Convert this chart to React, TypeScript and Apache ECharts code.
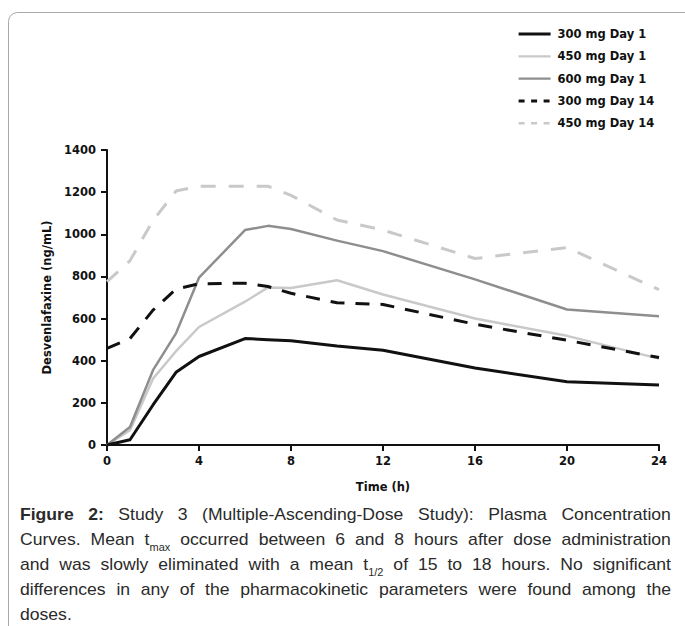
import React, { useEffect, useRef } from "react";
import * as echarts from "echarts";

// ---- data ----
const hours = [0, 1, 2, 3, 4, 6, 7, 8, 10, 12, 16, 20, 24];
const mg300Day1 = [0, 25, 190, 345, 420, 505, 500, 495, 470, 450, 365, 300, 285];
const mg450Day1 = [0, 70, 315, 445, 560, 680, 748, 745, 782, 714, 600, 518, 410];
const mg600Day1 = [0, 85, 355, 530, 794, 1020, 1040, 1025, 970, 920, 786, 643, 611];
const mg300Day14 = [459, 505, 640, 740, 765, 768, 752, 720, 675, 667, 573, 497, 415];
const mg450Day14 = [775, 875, 1065, 1205, 1228, 1228, 1228, 1185, 1068, 1020, 885, 937, 737];

const seriesNames = ["300 mg Day 1", "450 mg Day 1", "600 mg Day 1", "300 mg Day 14", "450 mg Day 14"];
const seriesValues = [mg300Day1, mg450Day1, mg600Day1, mg300Day14, mg450Day14];

const xMin = 0;
const xMax = 24;
const xInterval = 4;
const yMin = 0;
const yMax = 1400;
const yInterval = 200;
const xAxisTitle = "Time (h)";
const yAxisTitle = "Desvenlafaxine (ng/mL)";

// ^ marks a bold word, _ starts a subscript
const captionLines = [
  "^Figure ^2: Study 3 (Multiple-Ascending-Dose Study): Plasma Concentration",
  "Curves. Mean t_max occurred between 6 and 8 hours after dose administration",
  "and was slowly eliminated with a mean t_1/2 of 15 to 18 hours. No significant",
  "differences in any of the pharmacokinetic parameters were found among the",
  "doses.",
];

// ---- styles ----
const seriesStyles = [
  { color: "#111111", width: 3, type: "solid" as any, legendType: "solid" as any, legendWidth: 3.2 },
  { color: "#c9c9c9", width: 2.5, type: "solid" as any, legendType: "solid" as any, legendWidth: 2.2 },
  { color: "#8e8e8e", width: 2.5, type: "solid" as any, legendType: "solid" as any, legendWidth: 2.2 },
  { color: "#111111", width: 3, type: [14, 11] as any, legendType: [6, 6.5] as any, legendWidth: 3 },
  { color: "#c9c9c9", width: 3, type: [15, 13] as any, legendType: [6, 6.5] as any, legendWidth: 2.5 },
];

const AXIS_FONT = "'DejaVu Sans', sans-serif";
const CAPTION_FONT = "'Liberation Sans', Arial, sans-serif";

function buildCaption(): any[] {
  const canvas = document.createElement("canvas");
  const ctx = canvas.getContext("2d") as CanvasRenderingContext2D;
  const FS = 16;
  const SUB = 10;
  const SX = 1.1;
  const LEFT = 20;
  const RIGHT = 671;
  const BASE0 = 520;
  const LH = 25;
  const measure = (t: string, size: number, bold: boolean) => {
    ctx.font = `${bold ? "bold " : ""}${size}px ${CAPTION_FONT}`;
    return ctx.measureText(t).width;
  };
  const els: any[] = [];
  captionLines.forEach((line, li) => {
    const words = line.split(" ").map((raw) => {
      let w = raw;
      let bold = false;
      if (w.startsWith("^")) {
        bold = true;
        w = w.slice(1);
      }
      const parts = w.split("_");
      const segs: any[] = [{ text: parts[0], sub: false, bold }];
      if (parts[1]) segs.push({ text: parts[1], sub: true, bold: false });
      return segs.map((s) => ({ ...s, w: measure(s.text, s.sub ? SUB : FS, s.bold) * SX }));
    });
    const total = words.reduce((a, ws) => a + ws.reduce((b: number, s: any) => b + s.w, 0), 0);
    const last = li === captionLines.length - 1;
    const gap =
      last || words.length < 2 ? measure(" ", FS, false) * SX : (RIGHT - LEFT - total) / (words.length - 1);
    let x = LEFT;
    const base = BASE0 + li * LH;
    words.forEach((ws) => {
      ws.forEach((s: any) => {
        const size = s.sub ? SUB : FS;
        const bl = s.sub ? base + 6 : base;
        els.push({
          type: "text",
          x,
          y: bl - 0.35 * size,
          scaleX: SX,
          silent: true,
          style: {
            text: s.text,
            fontFamily: CAPTION_FONT,
            fontSize: size,
            fontWeight: s.bold ? "bold" : "normal",
            fill: "#2a2a2a",
            textAlign: "left",
            textVerticalAlign: "middle",
          },
        });
        x += s.w;
      });
      x += gap;
    });
  });
  return els;
}

export default function App() {
  const ref = useRef<HTMLDivElement>(null);

  useEffect(() => {
    document.body.style.margin = "0";
    if (!ref.current) return;
    const chart = echarts.init(ref.current, undefined, { renderer: "svg" });

    const axisLabelStyle = {
      fontFamily: AXIS_FONT,
      fontWeight: "bold" as const,
      fontSize: 11.5,
      color: "#111",
    };

    const option: any = {
      animation: false,
      backgroundColor: "#ffffff",
      grid: { left: 107, right: 26, top: 150, bottom: 181, containLabel: false, outerBoundsMode: "none" },
      legend: {
        orient: "vertical",
        left: 517,
        top: 28,
        padding: 0,
        itemWidth: 32,
        itemHeight: 14,
        itemGap: 10.3,
        itemStyle: { opacity: 0 },
        textStyle: { ...axisLabelStyle, padding: [0, 0, 0, 2] },
        data: seriesNames.map((name, i) => ({
          name,
          itemStyle: { opacity: 0 },
          lineStyle: {
            color: seriesStyles[i].color,
            width: seriesStyles[i].legendWidth,
            type: seriesStyles[i].legendType,
          },
        })),
      },
      xAxis: {
        type: "value",
        min: xMin,
        max: xMax,
        interval: xInterval,
        name: xAxisTitle,
        nameLocation: "middle",
        nameGap: 36,
        nameTextStyle: { ...axisLabelStyle, fontSize: 11.5 },
        axisLine: { show: true, onZero: false, lineStyle: { color: "#111", width: 2 } },
        axisTick: { show: true, length: 6, lineStyle: { color: "#111", width: 2 } },
        axisLabel: { ...axisLabelStyle, margin: 10, formatter: (v: number) => String(v) },
        splitLine: { show: false },
      },
      yAxis: {
        type: "value",
        min: yMin,
        max: yMax,
        interval: yInterval,
        name: yAxisTitle,
        nameLocation: "middle",
        nameGap: 53,
        nameTextStyle: { ...axisLabelStyle, fontSize: 11.5 },
        axisLine: { show: true, onZero: false, lineStyle: { color: "#111", width: 2 } },
        axisTick: { show: true, length: 6, lineStyle: { color: "#111", width: 2 } },
        axisLabel: { ...axisLabelStyle, margin: 11, formatter: (v: number) => String(v) },
        splitLine: { show: false },
      },
      series: seriesNames.map((name, i) => ({
        name,
        type: "line",
        symbol: "none",
        showSymbol: false,
        color: seriesStyles[i].color,
        z: i === 0 || i === 3 ? 3 : 2,
        lineStyle: {
          color: seriesStyles[i].color,
          width: seriesStyles[i].width,
          type: seriesStyles[i].type,
          cap: "butt",
          join: "round",
        },
        data: hours.map((h, k) => [h, seriesValues[i][k]]),
      })),
      graphic: {
        elements: [
          {
            type: "rect",
            silent: true,
            z: -10,
            shape: { x: 8.5, y: 12.5, width: 720, height: 700, r: 9 },
            style: { fill: "none", stroke: "#a8a8a8", lineWidth: 1 },
          },
          ...buildCaption(),
        ],
      },
    };

    chart.setOption(option);
    return () => chart.dispose();
  }, []);

  return <div ref={ref} style={{ width: 685, height: 626 }} />;
}
